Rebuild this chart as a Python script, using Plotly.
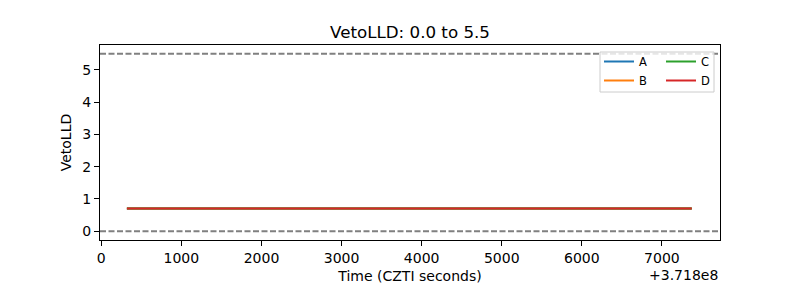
import plotly.graph_objects as go

# ---- data ----
time_offset_label = "+3.718e8"
time_rel = [320, 7372]          # seconds relative to 3.718e8
series_names = ["A", "B", "C", "D"]
vals_A = [0.7, 0.7]
vals_B = [0.7, 0.7]
vals_C = [0.7, 0.7]
vals_D = [0.7, 0.7]
lower_limit = 0.0
upper_limit = 5.5
x_ticks = [0, 1000, 2000, 3000, 4000, 5000, 6000, 7000]
y_ticks = [0, 1, 2, 3, 4, 5]

colors = {"A": "#1f77b4", "B": "#ff7f0e", "C": "#2ca02c", "D": "#d62728"}
values = {"A": vals_A, "B": vals_B, "C": vals_C, "D": vals_D}
legend_of = {"A": "legend", "B": "legend", "C": "legend2", "D": "legend2"}

FONT = "DejaVu Sans"

fig = go.Figure()
for name in series_names:
    fig.add_trace(go.Scatter(
        x=time_rel, y=values[name], mode="lines", name=name,
        line=dict(color=colors[name], width=2),
        legend=legend_of[name], hoverinfo="skip",
    ))

for lim in (lower_limit, upper_limit):
    fig.add_shape(type="line", xref="paper", x0=0, x1=1, yref="y", y0=lim, y1=lim,
                  line=dict(color="#808080", width=2, dash="6px,2.5px"), layer="below")

# legend frame (matplotlib style)
fig.add_shape(type="rect", xref="paper", yref="paper",
              x0=(600 - 100) / 620, x1=(714 - 100) / 620,
              y0=(240 - 92) / 195, y1=(240 - 52) / 195,
              line=dict(color="#cccccc", width=1), fillcolor="rgba(255,255,255,0.8)",
              layer="above")

fig.add_annotation(text=time_offset_label, xref="paper", yref="paper",
                   x=1.0, y=(240 - 275) / 195, xanchor="right", yanchor="middle",
                   showarrow=False, font=dict(family=FONT, size=14, color="black"))

leg_common = dict(bgcolor="rgba(0,0,0,0)", borderwidth=0, xanchor="left", yanchor="top",
                  font=dict(family=FONT, size=11.5, color="black"),
                  itemwidth=30, tracegroupgap=0)

fig.update_layout(
    width=800, height=300,
    margin=dict(l=100, r=80, t=45, b=60),
    paper_bgcolor="white", plot_bgcolor="white",
    font=dict(family=FONT, size=14, color="black"),
    title=dict(text="VetoLLD: 0.0 to 5.5", x=410 / 800, xanchor="center",
               y=1 - 32 / 300, yanchor="middle",
               font=dict(family=FONT, size=16.7, color="black")),
    showlegend=True,
    legend=dict(x=(599 - 100) / 620, y=(240 - 47) / 195, **leg_common),
    legend2=dict(x=(661 - 100) / 620, y=(240 - 47) / 195, **leg_common),
    xaxis=dict(range=[-16, 7725], tickvals=x_ticks, ticks="outside", ticklen=5,
               tickcolor="black", showgrid=False, zeroline=False,
               showline=True, mirror=True, linecolor="black", linewidth=1,
               title=dict(text="Time (CZTI seconds)", standoff=6,
                          font=dict(family=FONT, size=14))),
    yaxis=dict(range=[-0.275, 5.775], tickvals=y_ticks, ticks="outside", ticklen=5,
               tickcolor="black", showgrid=False, zeroline=False,
               showline=True, mirror=True, linecolor="black", linewidth=1,
               title=dict(text="VetoLLD", standoff=7,
                          font=dict(family=FONT, size=14))),
)

fig.write_html("out.html")
